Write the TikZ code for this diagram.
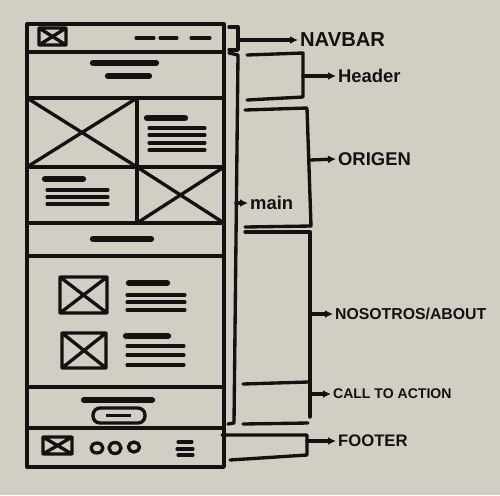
\documentclass[tikz,border=0pt]{standalone}
\usepackage{fontspec}
\setmainfont{Liberation Sans}
\usetikzlibrary{arrows.meta}
\definecolor{paper}{RGB}{210,206,196}
\definecolor{ink}{RGB}{20,18,16}
\begin{document}
\begin{tikzpicture}[x=0.02cm,y=-0.02cm,
  ink/.style={draw=ink,line width=1.9pt,line cap=round,line join=round},
  bar/.style={draw=ink,line width=3.6pt,line cap=round},
  txtline/.style={draw=ink,line width=1.8pt,line cap=round},
  lbl/.style={text=ink,inner sep=1pt,anchor=west},
  ptr/.style={ink,-{Latex[length=4.5pt,width=4.5pt]}}]
\fill[paper] (0,0) rectangle (500,495);
\useasboundingbox (0,0) rectangle (500,495);
% ---------- frame ----------
\draw[ink] (27,24) rectangle (224,467);
\foreach \y in {52,98,223,256,387,428} \draw[ink] (27,\y) -- (224,\y);
\draw[ink] (27,167) -- (224,167);
\draw[ink] (137,98) -- (137,223);
% navbar
\draw[ink] (39,28) rectangle (66,45) (39,28) -- (66,45) (39,45) -- (66,28);
\draw[txtline] (136,38) -- (154,38) (160,38) -- (177,38) (191,38) -- (210,38);
% header
\draw[bar] (93,63) -- (156,63);
\draw[bar] (108,76) -- (149,76);
% origin row 1
\draw[ink] (27,98) -- (137,167) (27,167) -- (137,98);
\draw[bar] (147,118) -- (185,118);
\foreach \y in {128,135,143,150} \draw[txtline] (149,\y) -- (205,\y);
% origin row 2
\draw[bar] (45,179) -- (83,179);
\foreach \y in {190,197,204} \draw[txtline] (47,\y) -- (108,\y);
\draw[ink] (137,167) -- (224,223) (137,223) -- (224,167);
% section heading
\draw[bar] (93,239) -- (151,239);
% about
\draw[ink] (60,277) rectangle (107,313) (60,277) -- (107,313) (60,313) -- (107,277);
\draw[ink] (62,333) rectangle (106,368) (62,333) -- (106,368) (62,368) -- (106,333);
\draw[bar] (129,283) -- (167,283);
\foreach \y in {295,302,310} \draw[txtline] (127,\y) -- (185,\y);
\draw[bar] (126,336) -- (168,336);
\foreach \y in {346,355,365} \draw[txtline] (127,\y) -- (184,\y);
% call to action
\draw[bar] (84,400) -- (152,400);
\draw[ink,rounded corners=4pt] (93,408) rectangle (145,423);
\draw[draw=ink,line width=1.2pt] (106,415.5) -- (131,415.5);
% footer
\draw[ink] (43,437) rectangle (72,454) (43,437) -- (72,454) (43,454) -- (72,437);
\draw[ink] (97,448) ellipse [x radius=6,y radius=5];
\draw[ink] (115,448) ellipse [x radius=6,y radius=5.5];
\draw[ink] (134,447) ellipse [x radius=5.5,y radius=5];
\draw[txtline] (178,442) -- (192,442) (177,449) -- (193,449) (178,455) -- (193,455);
% ---------- labels ----------
\node[lbl,font=\bfseries\fontsize{11.5}{11.5}\selectfont] (nav) at (298,40) {NAVBAR};
\node[lbl,font=\bfseries\fontsize{10.5}{10.5}\selectfont] (hdr) at (336,76) {Header};
\node[lbl,font=\bfseries\fontsize{10.5}{10.5}\selectfont] (ori) at (336,159) {ORIGEN};
\node[lbl,font=\bfseries\fontsize{10.5}{10.5}\selectfont] (mn) at (248,203) {main};
\node[lbl,font=\bfseries\fontsize{9}{9}\selectfont] (abt) at (333,314) {NOSOTROS/ABOUT};
\node[lbl,font=\bfseries\fontsize{8}{8}\selectfont] (cta) at (331,394) {CALL TO ACTION};
\node[lbl,font=\bfseries\fontsize{9.5}{9.5}\selectfont] (ftr) at (336,441) {FOOTER};
% ---------- brackets ----------
\draw[ink] (229,27) -- (238,27) -- (238,50) -- (229,50);
\coordinate (navb) at (238,40);
\draw[ptr] (navb) -- (nav.west);
\draw[ink] (229,53) -- (238,55) -- (234,423) -- (228,424);
\coordinate (mainb) at (236,203);
\draw[ptr] (mainb) -- (mn.west);
\draw[ink] (247,55) -- (303,53) -- (303,97) -- (247,100);
\coordinate (hdrb) at (303,76);
\draw[ptr] (hdrb) -- (hdr.west);
\draw[ink] (245,110) -- (307,108) -- (311,226) -- (245,227);
\coordinate (orib) at (310,160);
\draw[ptr] (orib) -- (ori.west);
\draw[ink] (245,232) -- (310,232) -- (310,417);
\draw[ink] (243,384) -- (308,382);
\coordinate (abtb) at (310,314);
\draw[ptr] (abtb) -- (abt.west);
\coordinate (ctab) at (310,394);
\draw[ptr] (ctab) -- (cta.west);
\draw[ink] (243,424) -- (308,423);
\draw[ink] (222,435) -- (307,435) -- (307,455) -- (230,460);
\coordinate (ftrb) at (307,441);
\draw[ptr] (ftrb) -- (ftr.west);
\end{tikzpicture}
\end{document}
